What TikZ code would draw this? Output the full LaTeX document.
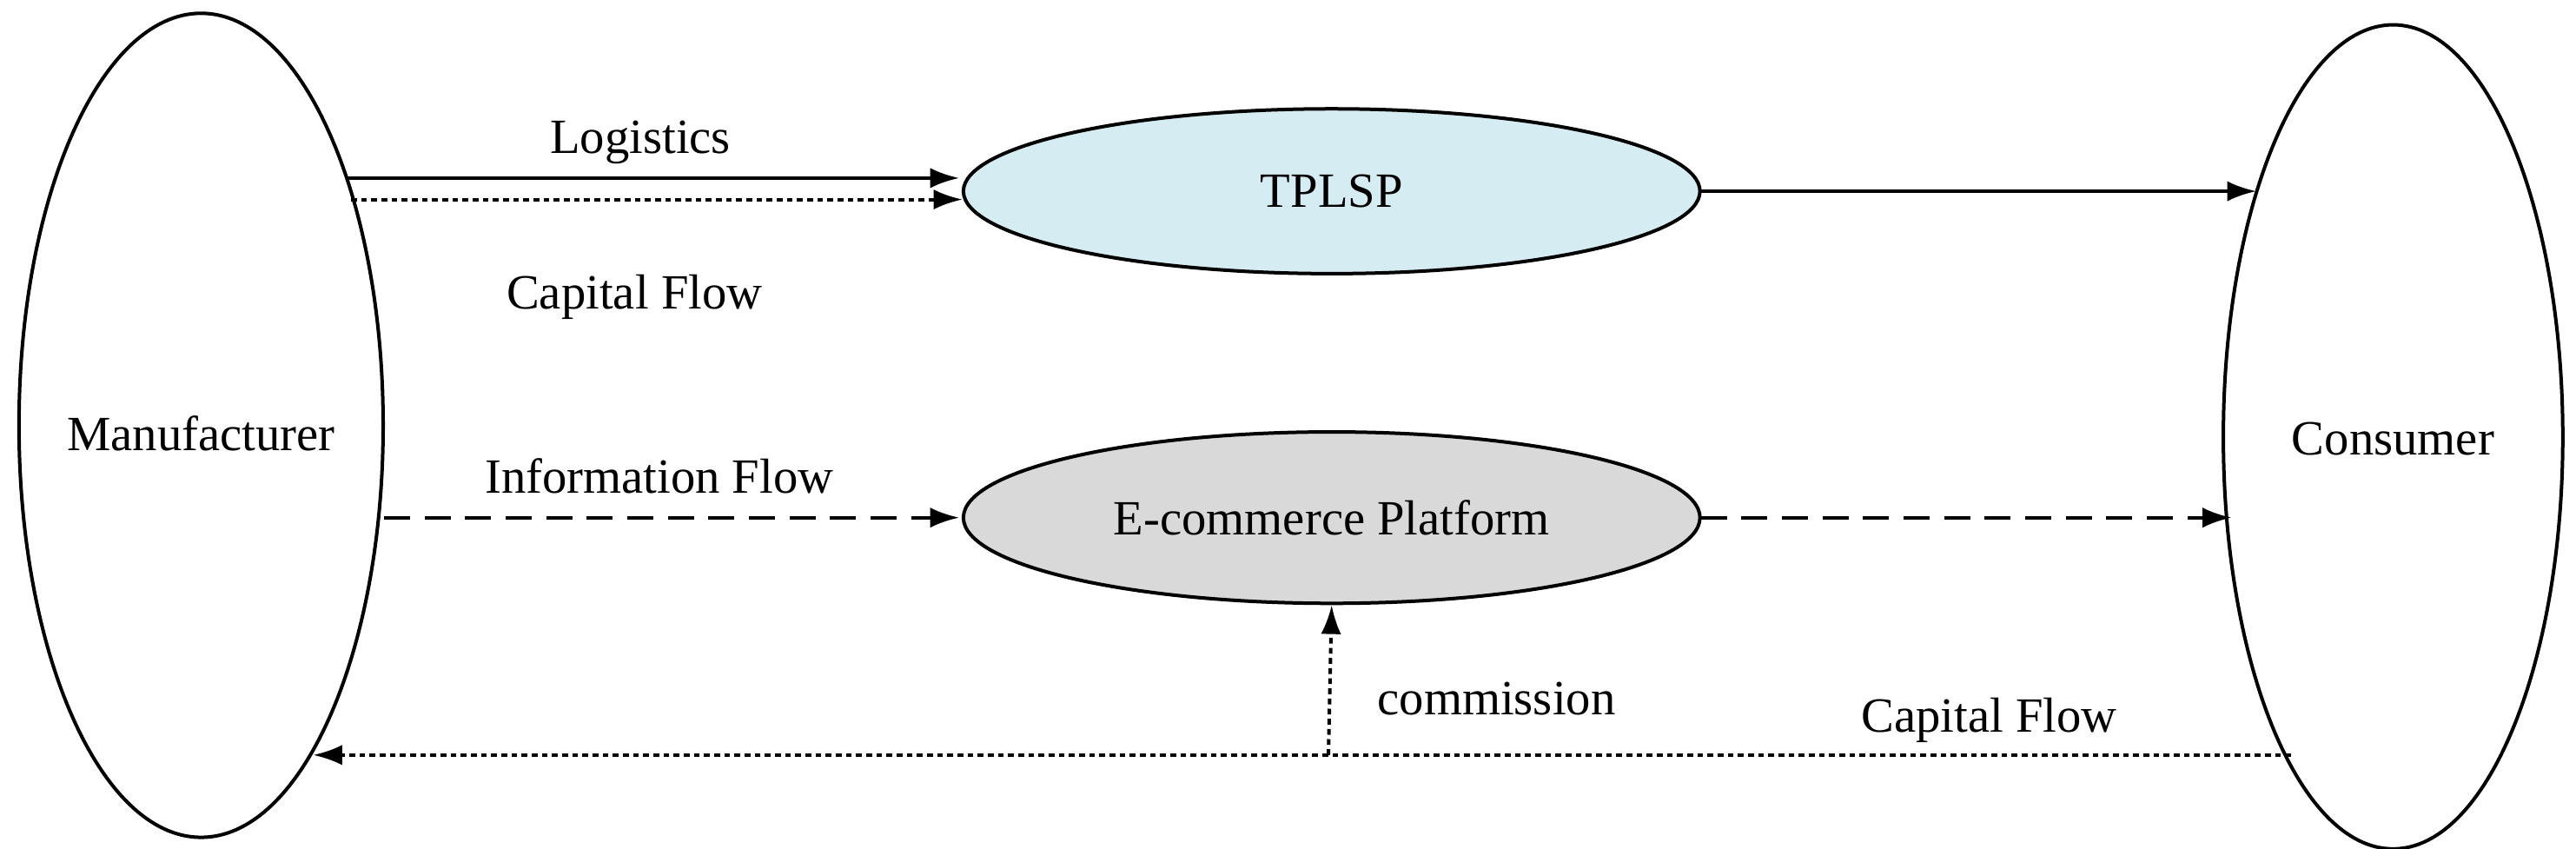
\documentclass[tikz,border=0pt]{standalone}
\usepackage{fontspec}
\setmainfont{Liberation Serif}
\usetikzlibrary{shapes.geometric,arrows.meta}
\begin{document}
\begin{tikzpicture}[x=0.02cm,y=-0.02cm,
  every node/.style={font=\fontsize{17}{20}\selectfont},
  ell/.style={draw,ellipse,line width=1.2pt,inner sep=0pt},
  ar/.style={line width=1.2pt,-{Latex[length=10pt,width=7pt]}},
  dsh/.style={dash pattern=on 9pt off 5pt},
  dot/.style={dash pattern=on 2pt off 1.5pt}]
\useasboundingbox (0,0) rectangle (1563,515);
\node[ell,minimum width=4.42cm,minimum height=10cm] (man) at (122,258) {};
\node at (122,263) {Manufacturer};
\node[ell,minimum width=4.12cm,minimum height=10cm] (con) at (1452,265) {};
\node at (1452,266) {Consumer};
\node[ell,fill={rgb,255:red,213;green,236;blue,242},minimum width=8.94cm,minimum height=2cm] (tp) at (808,116) {TPLSP};
\node[ell,fill={rgb,255:red,217;green,217;blue,217},minimum width=8.94cm,minimum height=2.08cm] (ec) at (808,314) {E-commerce Platform};
\coordinate (l1) at (210,108); \coordinate (l2) at (582,108);
\draw[ar] (l1) -- (l2) node[pos=0.48,above=1pt] {Logistics};
\coordinate (c1) at (213,121); \coordinate (c2) at (584,121);
\draw[ar,dot] (c1) -- (c2);
\node at (385,180) {Capital Flow};
\coordinate (t1) at (1032,116); \coordinate (t2) at (1369,116);
\draw[ar] (t1) -- (t2);
\coordinate (i1) at (233,314); \coordinate (i2) at (582,314);
\draw[ar,dsh] (i1) -- (i2);
\node at (400,289) {Information Flow};
\coordinate (e1) at (1032,314); \coordinate (e2) at (1354,314);
\draw[ar,dsh] (e1) -- (e2);
\coordinate (k1) at (1390,458); \coordinate (k2) at (190,458); \coordinate (km) at (806,458);
\draw[ar,dot] (k1) -- (k2);
\node at (1207,437) {Capital Flow};
\draw[ar,dot] (km) -- (ec.south);
\node at (908,424) {commission};
\end{tikzpicture}
\end{document}
